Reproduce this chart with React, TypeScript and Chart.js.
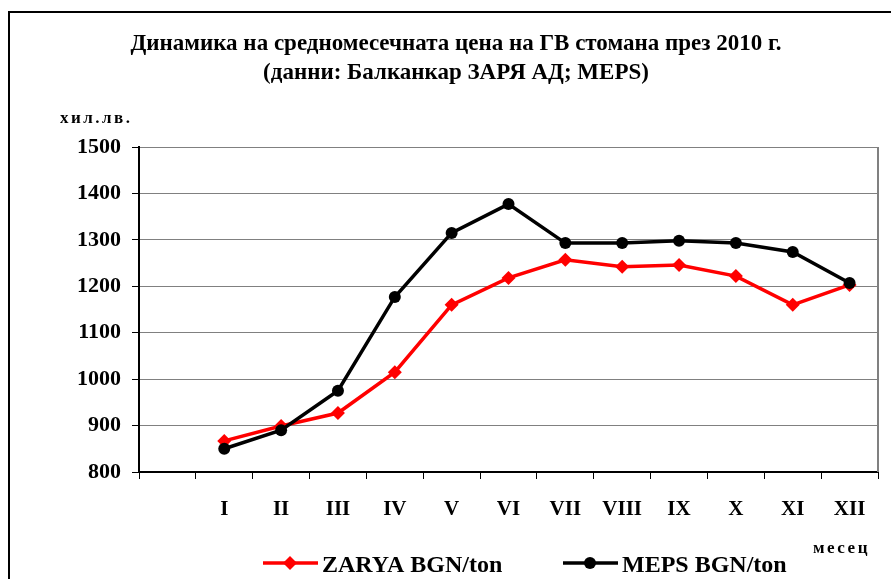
import React, { useEffect, useRef } from "react";
import { Chart, registerables } from "chart.js";

Chart.register(...registerables);

const categories = ["", "I", "II", "III", "IV", "V", "VI", "VII", "VIII", "IX", "X", "XI", "XII"];
const zaryaValues = [null, 867, 899, 927, 1015, 1160, 1218, 1257, 1242, 1246, 1222, 1160, 1203];
const mepsValues = [null, 850, 890, 975, 1177, 1315, 1377, 1293, 1293, 1298, 1293, 1274, 1207];
const seriesNames = ["ZARYA BGN/ton", "MEPS BGN/ton"];
const titleLines = ["Динамика на средномесечната цена на ГВ стомана през 2010 г.", "(данни: Балканкар ЗАРЯ АД; MEPS)"];
const yAxisTitle = "хил.лв.";
const xAxisTitle = "месец";
const yMin = 800;
const yMax = 1500;
const yStep = 100;

const FONT = "'Liberation Serif', 'Times New Roman', serif";

const decorPlugin = {
  id: "decor",
  beforeDatasetsDraw(chart: any) {
    const { ctx, chartArea } = chart;
    ctx.save();
    ctx.strokeStyle = "#808080";
    ctx.lineWidth = 2;
    ctx.beginPath();
    ctx.moveTo(chartArea.right, chartArea.top);
    ctx.lineTo(chartArea.right, chartArea.bottom);
    ctx.stroke();
    ctx.restore();
  },
  afterDraw(chart: any) {
    const { ctx } = chart;
    ctx.save();
    // outer frame
    ctx.strokeStyle = "#000";
    ctx.lineWidth = 2;
    ctx.strokeRect(9, 12, 1000, 1000);
    // title
    ctx.fillStyle = "#000";
    ctx.textAlign = "center";
    ctx.textBaseline = "alphabetic";
    ctx.font = `bold 23px ${FONT}`;
    ctx.fillText(titleLines[0], 456, 50);
    ctx.fillText(titleLines[1], 456, 79);
    // axis titles
    ctx.textAlign = "left";
    ctx.font = `bold 17px ${FONT}`;
    (ctx as any).letterSpacing = "2.5px";
    ctx.fillText(yAxisTitle, 60, 123);
    ctx.fillText(xAxisTitle, 813, 553);
    (ctx as any).letterSpacing = "0px";
    // legend
    const items = [
      { x: 263, color: "#ff0000", style: "rectRot", text: seriesNames[0] },
      { x: 563, color: "#000000", style: "circle", text: seriesNames[1] },
    ];
    const ly = 563;
    for (const it of items) {
      ctx.strokeStyle = it.color;
      ctx.fillStyle = it.color;
      ctx.lineWidth = 3.5;
      ctx.beginPath();
      ctx.moveTo(it.x, ly);
      ctx.lineTo(it.x + 55, ly);
      ctx.stroke();
      const cx = it.x + 27;
      ctx.beginPath();
      if (it.style === "circle") {
        ctx.arc(cx, ly, 6, 0, Math.PI * 2);
      } else {
        ctx.moveTo(cx, ly - 7);
        ctx.lineTo(cx + 7, ly);
        ctx.lineTo(cx, ly + 7);
        ctx.lineTo(cx - 7, ly);
        ctx.closePath();
      }
      ctx.fill();
      ctx.fillStyle = "#000";
      ctx.font = `bold 24px ${FONT}`;
      ctx.fillText(it.text, it.x + 59, 572);
    }
    ctx.restore();
  },
};

export default function App() {
  const ref = useRef<HTMLCanvasElement | null>(null);
  useEffect(() => {
    if (!ref.current) return;
    const chart = new Chart(ref.current, {
      type: "line",
      data: {
        labels: categories,
        datasets: [
          {
            label: seriesNames[0],
            data: zaryaValues,
            borderColor: "#ff0000",
            backgroundColor: "#ff0000",
            borderWidth: 3.5,
            pointStyle: "rectRot",
            pointRadius: 7,
            pointBorderWidth: 0,
            tension: 0,
            order: 1,
          },
          {
            label: seriesNames[1],
            data: mepsValues,
            borderColor: "#000000",
            backgroundColor: "#000000",
            borderWidth: 3.5,
            pointStyle: "circle",
            pointRadius: 6,
            pointBorderWidth: 0,
            tension: 0,
            order: 0,
          },
        ],
      },
      options: {
        animation: false,
        responsive: false,
        layout: { padding: { top: 147, left: 0, right: 13, bottom: 0 } },
        plugins: { legend: { display: false }, title: { display: false }, tooltip: { enabled: false } },
        scales: {
          x: {
            offset: true,
            grid: { offset: true, drawOnChartArea: false, drawTicks: true, tickLength: 7, tickColor: "#000", tickWidth: 1 },
            border: { color: "#000", width: 2 },
            ticks: { color: "#000", font: { family: FONT, weight: "bold", size: 21 }, padding: 18, maxRotation: 0, autoSkip: false },
            afterFit(scale: any) {
              scale.height = 107;
            },
          },
          y: {
            min: yMin,
            max: yMax,
            grid: { color: "#808080", tickColor: "#000", tickLength: 7, lineWidth: 1 },
            border: { color: "#000", width: 2 },
            ticks: {
              stepSize: yStep,
              color: "#000",
              font: { family: FONT, weight: "bold", size: 22 },
              padding: 11,
              callback: (v: any) => String(v),
            },
            afterFit(scale: any) {
              scale.width = 139;
            },
          },
        },
      },
      plugins: [decorPlugin],
    } as any);
    return () => chart.destroy();
  }, []);
  return (
    <div style={{ position: "absolute", left: 0, top: 0, width: 891, height: 579, background: "#fff" }}>
      <canvas ref={ref} width={891} height={579} style={{ width: 891, height: 579, display: "block" }} />
    </div>
  );
}
